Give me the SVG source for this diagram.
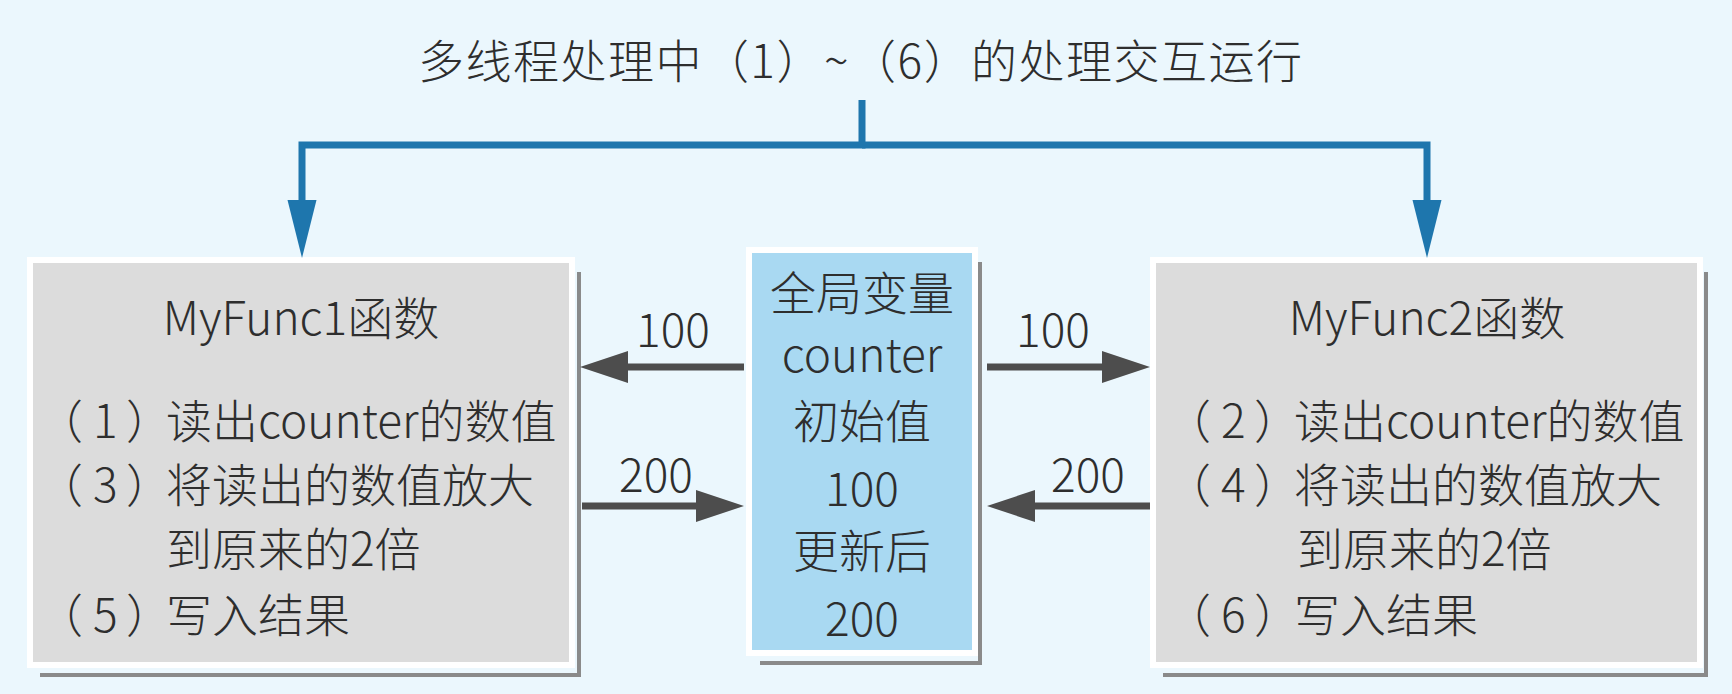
<svg xmlns="http://www.w3.org/2000/svg" width="1732" height="694" viewBox="0 0 1732 694">
<style>
text{font-family:"Noto Sans CJK SC","Noto Sans",sans-serif;fill:#2e2e2e;font-size:46px;font-weight:300}
.c{text-anchor:middle}
.box{fill:#dcdcdc;stroke:#ffffff;stroke-width:6}
.cbox{fill:#a9d9f2;stroke:#ffffff;stroke-width:6}
.sh{fill:none;stroke:#8a8a8a;stroke-width:4}
.blue{fill:none;stroke:#1e76ad;stroke-width:7;stroke-linejoin:miter}
.gray{fill:none;stroke:#4d4d4d;stroke-width:7}
</style>
<defs>
<marker id="bh" markerUnits="userSpaceOnUse" markerWidth="58" markerHeight="29" refX="0" refY="14.5" orient="auto" overflow="visible">
<path d="M0,0 L58,14.5 L0,29 z" fill="#1e76ad"/>
</marker>
<marker id="gh" markerUnits="userSpaceOnUse" markerWidth="48" markerHeight="32" refX="0" refY="16" orient="auto" overflow="visible">
<path d="M0,0 L48,16 L0,32 z" fill="#4d4d4d"/>
</marker>
</defs>
<rect x="0" y="0" width="1732" height="694" fill="#ebf7fd"/>
<text id="title" x="418" y="78" textLength="884" lengthAdjust="spacing">多线程处理中（1）~（6）的处理交互运行</text>
<g id="func1">
<path class="sh" d="M40,675 H579 V272"/>
<rect class="box" x="30" y="260" width="542" height="405"/>
<text class="c" x="301" y="335">MyFunc1函数</text>
<text x="37 93 126 166" y="438">（1）读出counter的数值</text>
<text x="37 93 126 166" y="502">（3）将读出的数值放大</text>
<text x="166" y="566">到原来的2倍</text>
<text x="37 93 126 166" y="632">（5）写入结果</text>
</g>
<g id="counter">
<path class="sh" d="M760,663 H980 V262"/>
<rect class="cbox" x="749" y="250" width="226" height="403"/>
<text class="c" x="862" y="310">全局变量</text>
<text class="c" x="862" y="372">counter</text>
<text class="c" x="862" y="438">初始值</text>
<text class="c" x="862" y="506">100</text>
<text class="c" x="862" y="568">更新后</text>
<text class="c" x="862" y="636">200</text>
</g>
<g id="func2">
<path class="sh" d="M1163,675 H1706 V272"/>
<rect class="box" x="1153" y="260" width="547" height="405"/>
<text class="c" x="1427" y="335">MyFunc2函数</text>
<text x="1165 1221 1254 1294" y="438">（2）读出counter的数值</text>
<text x="1165 1221 1254 1294" y="502">（4）将读出的数值放大</text>
<text x="1297" y="566">到原来的2倍</text>
<text x="1165 1221 1254 1294" y="632">（6）写入结果</text>
</g>
<g id="connectors">
<path class="blue" d="M862,100 V145 H302 V200" marker-end="url(#bh)"/>
<path class="blue" d="M862,145 H1427 V200" marker-end="url(#bh)"/>
<path class="gray" d="M744,367 H628" marker-end="url(#gh)"/>
<path class="gray" d="M582,506 H696" marker-end="url(#gh)"/>
<path class="gray" d="M987,367 H1102" marker-end="url(#gh)"/>
<path class="gray" d="M1150,506 H1035" marker-end="url(#gh)"/>
<text class="c" x="673" y="347">100</text>
<text class="c" x="656" y="492">200</text>
<text class="c" x="1053" y="347">100</text>
<text class="c" x="1088" y="492">200</text>
</g>
</svg>
